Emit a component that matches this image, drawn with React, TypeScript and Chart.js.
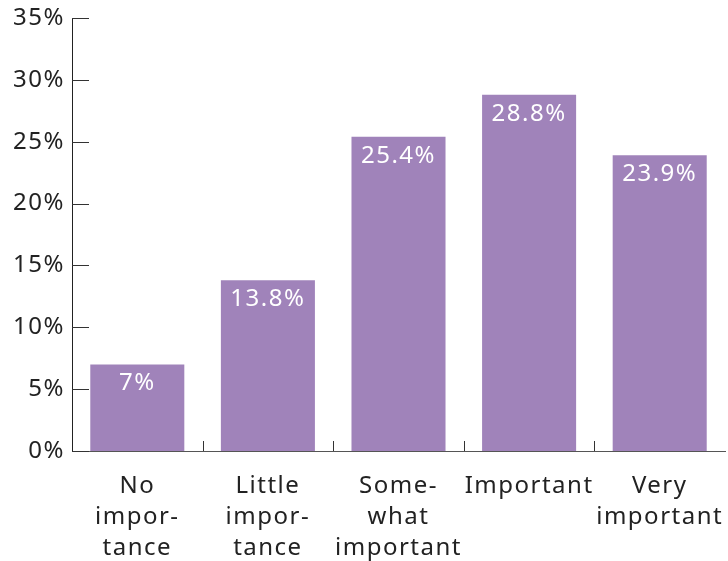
import React, { useEffect, useRef } from "react";
import { Chart, registerables } from "chart.js";

Chart.register(...registerables);

const categories: string[][] = [
  ["No", "impor-", "tance"],
  ["Little", "impor-", "tance"],
  ["Some-", "what", "important"],
  ["Important"],
  ["Very", "important"],
];
const values: number[] = [7, 13.8, 25.4, 28.8, 23.9];
const valueLabels: string[] = ["7%", "13.8%", "25.4%", "28.8%", "23.9%"];
const yMax = 35;
const yStep = 5;

const FONT = "'Noto Sans', sans-serif";

const spacingPlugin = {
  id: "letterSpacing",
  beforeDraw(chart: any) {
    try { (chart.ctx as any).letterSpacing = "1.5px"; } catch (e) {}
  },
  afterDraw(chart: any) {
    try { (chart.ctx as any).letterSpacing = "0px"; } catch (e) {}
  },
};

const tickPlugin = {
  id: "customTicks",
  afterDatasetsDraw(chart: any) {
    const ctx = chart.ctx;
    const y = chart.scales.y;
    const x = chart.scales.x;
    const area = chart.chartArea;
    ctx.save();
    ctx.lineWidth = 1;
    ctx.strokeStyle = "#333";
    y.ticks.forEach((t: any) => {
      const py = Math.round(y.getPixelForValue(t.value)) + 0.5;
      ctx.beginPath();
      ctx.moveTo(area.left, py);
      ctx.lineTo(area.left + 17, py);
      ctx.stroke();
    });
    for (let i = 1; i < categories.length; i++) {
      const px = Math.round((x.getPixelForValue(i - 1) + x.getPixelForValue(i)) / 2) + 0.5;
      ctx.beginPath();
      ctx.moveTo(px, area.bottom);
      ctx.lineTo(px, area.bottom - 10);
      ctx.stroke();
    }
    const meta = chart.getDatasetMeta(0);
    ctx.fillStyle = "#ffffff";
    ctx.font = `24px ${FONT}`;
    ctx.textAlign = "center";
    ctx.textBaseline = "middle";
    meta.data.forEach((bar: any, i: number) => {
      ctx.fillText(valueLabels[i], bar.x, bar.y + 19);
    });
    ctx.restore();
  },
};

export default function App() {
  const ref = useRef<HTMLCanvasElement>(null);
  useEffect(() => {
    document.body.style.margin = "0";
    const chart = new Chart(ref.current!, {
      type: "bar",
      data: {
        labels: categories,
        datasets: [
          {
            data: values,
            backgroundColor: "#A083BA",
            barPercentage: 0.72,
            categoryPercentage: 1,
          },
        ],
      },
      options: {
        animation: false,
        responsive: false,
        maintainAspectRatio: false,
        layout: { padding: { top: 18, right: 3, left: 0, bottom: 0 } },
        plugins: { legend: { display: false }, tooltip: { enabled: false } },
        scales: {
          x: {
            grid: { display: false, drawTicks: false },
            border: { display: true, color: "#555", width: 1 },
            ticks: {
              color: "#222",
              font: { family: FONT, size: 24, lineHeight: 1.29 },
              padding: 20,
              maxRotation: 0,
              autoSkip: false,
            },
            afterFit(scale: any) {
              scale.height = 110;
              scale.paddingLeft = 0;
              scale.paddingRight = 0;
            },
          },
          y: {
            min: 0,
            max: yMax,
            grid: { display: false, drawTicks: false },
            border: { display: true, color: "#222", width: 1 },
            ticks: {
              stepSize: yStep,
              color: "#222",
              padding: 7,
              font: { family: FONT, size: 24 },
              callback: (v: any) => `${v}%`,
            },
            afterFit(scale: any) {
              scale.width = 72;
              scale.paddingTop = 0;
              scale.paddingBottom = 0;
            },
          },
        },
      },
      plugins: [spacingPlugin, tickPlugin],
    });
    return () => chart.destroy();
  }, []);
  return (
    <div style={{ position: "absolute", left: 0, top: 0, width: 728, height: 561 }}>
      <canvas ref={ref} width={728} height={561} />
    </div>
  );
}
